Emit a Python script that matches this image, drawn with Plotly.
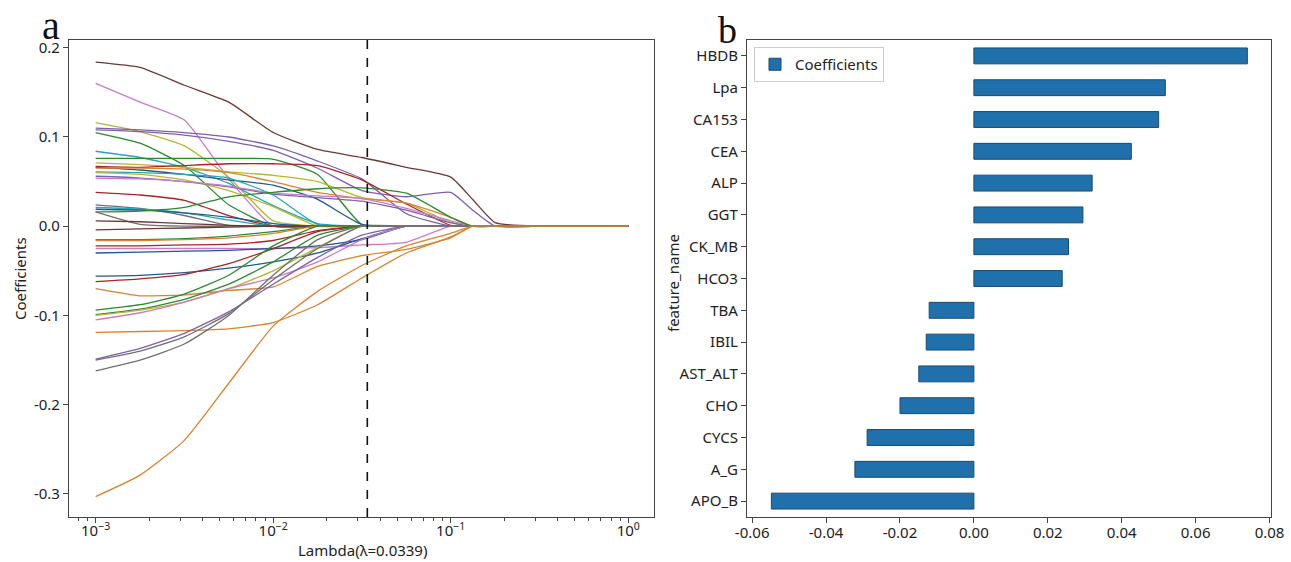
import plotly.graph_objects as go

# ---------------- Panel a: LASSO coefficient paths ----------------
lambda_grid = [0.001, 0.00178, 0.00316, 0.00562, 0.01, 0.0178, 0.0316, 0.0562,
               0.1, 0.133, 0.178, 0.316, 0.562, 1.0]
best_lambda = 0.0339

brown_a  = [0.184, 0.178, 0.158, 0.139, 0.105, 0.086, 0.077, 0.066, 0.055, 0.030, 0.004, 0, 0, 0]
pink_a   = [0.160, 0.139, 0.119, 0.053, 0, 0, 0, 0, 0, 0, 0, 0, 0, 0]
olive_a  = [0.116, 0.106, 0.090, 0.055, 0.006, 0, 0, 0, 0, 0, 0, 0, 0, 0]
purple_a = [0.110, 0.108, 0.105, 0.100, 0.090, 0.073, 0.053, 0.014, 0, 0, 0, 0, 0, 0]
purple_b = [0.108, 0.106, 0.102, 0.095, 0.085, 0.065, 0.040, 0.033, 0.038, 0.018, 0, 0, 0, 0]
green_a  = [0.105, 0.093, 0.068, 0.024, 0, 0, 0, 0, 0, 0, 0, 0, 0, 0]
cyan_a   = [0.084, 0.077, 0.066, 0.048, 0.023, 0.003, 0, 0, 0, 0, 0, 0, 0, 0]
green_b  = [0.076, 0.076, 0.076, 0.076, 0.075, 0.058, 0.002, 0, 0, 0, 0, 0, 0, 0]
olive_b  = [0.071, 0.069, 0.066, 0.061, 0.057, 0.050, 0.032, 0.026, 0.004, 0, 0, 0, 0, 0]
red_a    = [0.067, 0.066, 0.068, 0.070, 0.070, 0.068, 0.052, 0.025, 0.001, 0, 0, 0, 0, 0]
blue_a   = [0.066, 0.063, 0.058, 0.052, 0.046, 0.030, 0.002, 0, 0, 0, 0, 0, 0, 0]
orange_a = [0.065, 0.065, 0.064, 0.060, 0.050, 0.038, 0.031, 0.026, 0.010, 0, 0, 0, 0, 0]
cyan_b   = [0.061, 0.060, 0.058, 0.054, 0.035, 0.002, 0, 0, 0, 0, 0, 0, 0, 0]
olive_c  = [0.060, 0.058, 0.052, 0.040, 0.022, 0, 0, 0, 0, 0, 0, 0, 0, 0]
purple_c = [0.056, 0.054, 0.050, 0.044, 0.036, 0.032, 0.028, 0.018, 0.004, 0, 0, 0, 0, 0]
pink_b   = [0.054, 0.053, 0.050, 0.045, 0.037, 0.034, 0.031, 0.020, 0.006, 0, 0, 0, 0, 0]
red_b    = [0.038, 0.035, 0.029, 0.012, 0, 0, 0, 0, 0, 0, 0, 0, 0, 0]
gray_a   = [0.024, 0.020, 0.012, 0.001, 0, 0, 0, 0, 0, 0, 0, 0, 0, 0]
cyan_c   = [0.021, 0.019, 0.015, 0.007, 0, 0, 0, 0, 0, 0, 0, 0, 0, 0]
blue_b   = [0.019, 0.018, 0.015, 0.010, 0.003, 0, 0, 0, 0, 0, 0, 0, 0, 0]
green_c  = [0.016, 0.017, 0.021, 0.033, 0.038, 0.042, 0.043, 0.037, 0.010, 0, 0, 0, 0, 0]
gray_b   = [0.016, 0.002, 0, 0, 0, 0, 0, 0, 0, 0, 0, 0, 0, 0]
brown_b  = [0.006, 0.005, 0.003, 0.001, 0, 0, 0, 0, 0, 0, 0, 0, 0, 0]
brown_c  = [-0.004, -0.003, -0.002, -0.001, 0, 0, 0, 0, 0, 0, 0, 0, 0, 0]
green_d  = [-0.015, -0.015, -0.014, -0.011, -0.006, 0, 0, 0, 0, 0, 0, 0, 0, 0]
orange_b = [-0.016, -0.016, -0.015, -0.013, -0.008, 0, 0, 0, 0, 0, 0, 0, 0, 0]
red_c    = [-0.022, -0.022, -0.021, -0.020, -0.016, -0.005, 0, 0, 0, 0, 0, 0, 0, 0]
pink_d   = [-0.025, -0.025, -0.025, -0.025, -0.025, -0.024, -0.021, -0.018, 0, 0, 0, 0, 0, 0]
blue_c   = [-0.030, -0.029, -0.028, -0.027, -0.025, -0.022, -0.015, 0, 0, 0, 0, 0, 0, 0]
blue_d   = [-0.056, -0.055, -0.052, -0.047, -0.040, -0.030, -0.014, 0, 0, 0, 0, 0, 0, 0]
red_d    = [-0.062, -0.059, -0.054, -0.042, -0.025, -0.006, 0, 0, 0, 0, 0, 0, 0, 0]
orange_c = [-0.070, -0.078, -0.077, -0.072, -0.068, -0.045, -0.033, -0.026, -0.013, 0, 0, 0, 0, 0]
green_e  = [-0.094, -0.088, -0.076, -0.055, -0.022, 0, 0, 0, 0, 0, 0, 0, 0, 0]
green_f  = [-0.099, -0.093, -0.082, -0.065, -0.040, -0.010, 0, 0, 0, 0, 0, 0, 0, 0]
olive_d  = [-0.100, -0.094, -0.085, -0.070, -0.050, -0.024, 0, 0, 0, 0, 0, 0, 0, 0]
pink_e   = [-0.105, -0.097, -0.085, -0.070, -0.058, -0.040, -0.015, 0, 0, 0, 0, 0, 0, 0]
orange_d = [-0.119, -0.118, -0.117, -0.115, -0.108, -0.088, -0.058, -0.030, -0.012, 0, 0, 0, 0, 0]
purple_d = [-0.149, -0.137, -0.120, -0.096, -0.065, -0.035, -0.010, 0, 0, 0, 0, 0, 0, 0]
gray_c   = [-0.150, -0.140, -0.124, -0.098, -0.060, -0.025, 0, 0, 0, 0, 0, 0, 0, 0]
gray_d   = [-0.162, -0.150, -0.132, -0.100, -0.055, -0.015, 0, 0, 0, 0, 0, 0, 0, 0]
orange_e = [-0.303, -0.279, -0.240, -0.176, -0.112, -0.073, -0.044, -0.022, -0.008, 0, 0, 0, 0, 0]

BROWN, PINK, OLIVE, PURPLE, GREEN = "#6b3a35", "#c97cc4", "#b8b52e", "#7e5fae", "#2b8a2f"
CYAN, RED, BLUE, ORANGE, GRAY = "#25a7b5", "#a8232a", "#1f5a8c", "#d88330", "#707070"

coef_paths = [
    (brown_a, BROWN), (pink_a, PINK), (olive_a, OLIVE), (purple_a, PURPLE), (purple_b, PURPLE),
    (green_a, GREEN), (cyan_a, CYAN), (green_b, GREEN), (olive_b, OLIVE), (red_a, RED),
    (blue_a, BLUE), (orange_a, ORANGE), (cyan_b, CYAN), (olive_c, OLIVE), (purple_c, PURPLE),
    (pink_b, PINK), (red_b, RED), (gray_a, GRAY), (cyan_c, CYAN), (blue_b, BLUE),
    (green_c, GREEN), (gray_b, GRAY), (brown_b, BROWN), (brown_c, BROWN), (green_d, GREEN),
    (orange_b, ORANGE), (red_c, RED), (pink_d, PINK), (blue_c, BLUE), (blue_d, BLUE),
    (red_d, RED), (orange_c, ORANGE), (green_e, GREEN), (green_f, GREEN), (olive_d, OLIVE),
    (pink_e, PINK), (orange_d, ORANGE), (purple_d, PURPLE), (gray_c, GRAY), (gray_d, GRAY),
    (orange_e, ORANGE),
]

lam_tickvals = [0.001, 0.01, 0.1, 1]
lam_ticktext = ["10<sup>−3</sup>", "10<sup>−2</sup>", "10<sup>−1</sup>", "10<sup>0</sup>"]
lam_minorvals = [0.0008, 0.0009,
                 0.002, 0.003, 0.004, 0.005, 0.006, 0.007, 0.008, 0.009,
                 0.02, 0.03, 0.04, 0.05, 0.06, 0.07, 0.08, 0.09,
                 0.2, 0.3, 0.4, 0.5, 0.6, 0.7, 0.8, 0.9]
coef_tickvals = [-0.3, -0.2, -0.1, 0.0, 0.1, 0.2]
coef_ticktext = ["-0.3", "-0.2", "-0.1", "0.0", "0.1", "0.2"]

# ---------------- Panel b: selected feature coefficients ----------------
feature_names = ["HBDB", "Lpa", "CA153", "CEA", "ALP", "GGT", "CK_MB", "HCO3",
                 "TBA", "IBIL", "AST_ALT", "CHO", "CYCS", "A_G", "APO_B"]
feature_coefs = [0.0740, 0.0518, 0.0500, 0.0426, 0.0320, 0.0295, 0.0256, 0.0239,
                 -0.0121, -0.0129, -0.0149, -0.0200, -0.0289, -0.0322, -0.0548]
b_tickvals = [-0.06, -0.04, -0.02, 0.0, 0.02, 0.04, 0.06, 0.08]
b_ticktext = ["-0.06", "-0.04", "-0.02", "0.00", "0.02", "0.04", "0.06", "0.08"]

FONT = "Noto Sans"
AXC = "#444444"
W, H = 1291, 562


def px(x):
    return x / W


def py(y):
    return 1 - y / H


fig = go.Figure()
for path, color in coef_paths:
    fig.add_trace(go.Scatter(
        x=lambda_grid, y=path, mode="lines",
        line=dict(color=color, width=1.3, shape="spline", smoothing=0.5),
        showlegend=False, hoverinfo="skip", xaxis="x", yaxis="y"))

fig.add_shape(type="line", xref="x", yref="y domain", x0=best_lambda, x1=best_lambda,
              y0=0, y1=1, line=dict(color="#111111", width=1.6, dash="dash"))

fig.add_trace(go.Bar(
    x=feature_coefs, y=feature_names, orientation="h", width=0.5,
    marker=dict(color="#1f70ab", line=dict(color="#1b4a70", width=1)),
    name="Coefficients", xaxis="x2", yaxis="y2", showlegend=True))

axis_common = dict(showline=True, mirror=True, linecolor=AXC, linewidth=1.2,
                   ticks="outside", ticklen=5, tickcolor=AXC, showgrid=False,
                   zeroline=False, automargin=False, ticklabeloverflow="allow",
                   tickfont=dict(family=FONT, size=15, color="#222"))

title_font = dict(family=FONT, size=15, color="#222")

fig.update_layout(
    width=W, height=H,
    margin=dict(l=0, r=0, t=0, b=0, autoexpand=False),
    paper_bgcolor="white", plot_bgcolor="white",
    font=dict(family=FONT, size=15, color="#222"),
    xaxis=dict(type="log", domain=[px(69), px(654)], range=[-3.150, 0.145],
               tickvals=lam_tickvals, ticktext=lam_ticktext, anchor="y",
               ticklabelstandoff=-5,
               minor=dict(ticks="outside", ticklen=3, tickcolor=AXC, showgrid=False,
                          tickmode="array", tickvals=lam_minorvals),
               **axis_common),
    yaxis=dict(domain=[py(517), py(40)], range=[-0.3259, 0.2087],
               tickvals=coef_tickvals, ticktext=coef_ticktext, anchor="x",
               **axis_common),
    xaxis2=dict(domain=[px(747), px(1271)], range=[-0.0614, 0.0804],
                tickvals=b_tickvals, ticktext=b_ticktext, anchor="y2",
                ticklabelstandoff=-3,
                **axis_common),
    yaxis2=dict(domain=[py(517), py(40)], type="category",
                categoryorder="array", categoryarray=feature_names,
                range=[14.5, -0.5], anchor="x2",
                **axis_common),
    legend=dict(x=px(754), y=py(47), xanchor="left", yanchor="top",
                bgcolor="white", bordercolor="#cccccc", borderwidth=1,
                font=dict(family=FONT, size=15, color="#222")),
    annotations=[
        dict(text="a", x=px(40), y=py(25), xref="paper", yref="paper",
             xanchor="left", yanchor="middle", showarrow=False,
             font=dict(family="Liberation Serif", size=40, color="#111")),
        dict(text="b", x=px(716), y=py(30), xref="paper", yref="paper",
             xanchor="left", yanchor="middle", showarrow=False,
             font=dict(family="Liberation Serif", size=38, color="#111")),
        dict(text="Coefficients", x=px(20), y=py(279), xref="paper", yref="paper",
             xanchor="center", yanchor="middle", textangle=-90, showarrow=False,
             font=title_font),
        dict(text="Lambda(λ=0.0339)", x=px(362), y=py(550), xref="paper", yref="paper",
             xanchor="center", yanchor="middle", showarrow=False, font=title_font),
        dict(text="feature_name", x=px(673), y=py(283), xref="paper", yref="paper",
             xanchor="center", yanchor="middle", textangle=-90, showarrow=False,
             font=title_font),
    ],
)

# remove the browser's default 8px page margin so the figure fills the window exactly
fig.write_html("out.html",
               config={"displayModeBar": False},
               post_script="document.body.style.margin='0px';"
                           "document.body.style.overflow='hidden';")
